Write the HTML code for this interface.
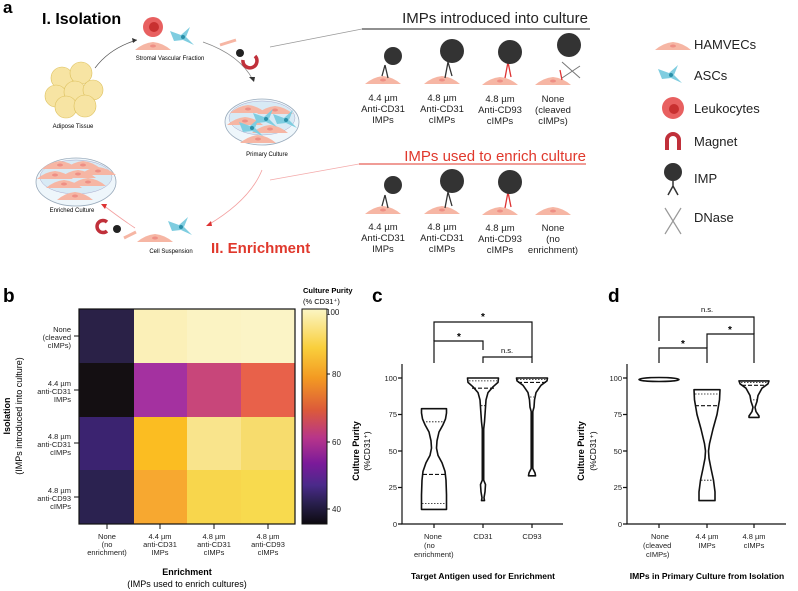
<!DOCTYPE html>
<html><head><meta charset="utf-8"><style>
body{margin:0;background:#fff}
svg{display:block;font-family:"Liberation Sans",Arial,sans-serif}
</style></head><body>
<svg width="798" height="591" viewBox="0 0 798 591" xmlns="http://www.w3.org/2000/svg">
<defs>
<linearGradient id="cb" x1="0" y1="0" x2="0" y2="1">
<stop offset="0" stop-color="#fbf6c4"/><stop offset="0.18" stop-color="#f9cf3c"/><stop offset="0.32" stop-color="#f39a22"/><stop offset="0.47" stop-color="#dc5a3a"/><stop offset="0.6" stop-color="#b7358a"/><stop offset="0.72" stop-color="#7a1a9a"/><stop offset="0.82" stop-color="#4a2a8a"/><stop offset="0.9" stop-color="#2a2050"/><stop offset="1" stop-color="#0d0a0f"/>
</linearGradient>
<g id="cell"><path d="M-18,4 Q-10,-3 0,-4 Q10,-3 18,4 Z" fill="#f6b6a4"/><ellipse cx="0" cy="0" rx="3" ry="1.5" fill="#ee8f85"/></g>
<g id="asc"><path d="M-14,-6 L-3,-2 L6,-10 L2,0 L10,8 L-1,3 L-10,4 Z" fill="#7fcde0"/><circle cx="-1" cy="0" r="2" fill="#2a8fa8"/></g>
</defs>

<!-- Panel a -->
<text x="3" y="13" font-size="17" font-weight="bold">a</text>
<text x="42" y="24" font-size="16" font-weight="bold">I. Isolation</text>
<g fill="#f7e29a" stroke="#d9b94a" stroke-width="0.6" opacity="0.9">
<circle cx="62" cy="78" r="11"/><circle cx="81" cy="73" r="11"/><circle cx="56" cy="96" r="11"/><circle cx="75" cy="92" r="11"/><circle cx="93" cy="90" r="10"/><circle cx="66" cy="107" r="11"/><circle cx="85" cy="106" r="11"/>
</g>
<text x="73" y="128" font-size="6" text-anchor="middle">Adipose Tissue</text>
<path d="M95,68 Q110,48 137,40" fill="none" stroke="#555" stroke-width="0.7"/>
<polygon points="137,40 132,38 133,43" fill="#333"/>
<circle cx="153" cy="27" r="10" fill="#e86060"/><circle cx="154" cy="27" r="5" fill="#c83030"/>
<use href="#cell" x="153" y="46"/><use href="#asc" x="184" y="37"/>
<text x="170" y="60" font-size="6" text-anchor="middle">Stromal Vascular Fraction</text>
<path d="M203,42 Q240,55 253,80" fill="none" stroke="#888" stroke-width="0.7"/>
<polygon points="254,82 249,77 255,77" fill="#333"/>
<circle cx="240" cy="53" r="4" fill="#222"/><path d="M243,60 a7,7 0 1 0 12,-4" fill="none" stroke="#c0303a" stroke-width="3.5"/>
<path d="M220,45 L236,40" stroke="#f6b6a4" stroke-width="3"/>
<ellipse cx="262" cy="122" rx="37" ry="23" fill="#eef6fb" stroke="#9ab" stroke-width="0.8"/>
<ellipse cx="262" cy="118" rx="33" ry="17" fill="#d8eaf5" stroke="#aac" stroke-width="0.5"/>
<use href="#cell" x="248" y="109" transform="scale(1)"/><use href="#cell" x="275" y="110"/><use href="#cell" x="245" y="121"/><use href="#cell" x="270" y="129"/><use href="#cell" x="258" y="139"/>
<use href="#asc" x="267" y="119"/><use href="#asc" x="253" y="128"/><use href="#asc" x="287" y="120"/>
<text x="267" y="156" font-size="6" text-anchor="middle">Primary Culture</text>
<path d="M262,170 Q250,200 208,225" fill="none" stroke="#f3a0a0" stroke-width="0.8"/>
<polygon points="206,226 211,221 212,226" fill="#d33"/>
<ellipse cx="76" cy="182" rx="40" ry="24" fill="#eef6fb" stroke="#9ab" stroke-width="0.8"/>
<ellipse cx="76" cy="177" rx="36" ry="17" fill="#d8eaf5" stroke="#aac" stroke-width="0.5"/>
<use href="#cell" x="60" y="165"/><use href="#cell" x="83" y="165"/><use href="#cell" x="55" y="175"/><use href="#cell" x="78" y="174"/><use href="#cell" x="98" y="171"/><use href="#cell" x="64" y="184"/><use href="#cell" x="88" y="182"/><use href="#cell" x="75" y="196"/>
<text x="72" y="212" font-size="6" text-anchor="middle">Enriched Culture</text>
<path d="M135,228 Q120,218 103,205" fill="none" stroke="#f3a0a0" stroke-width="0.8"/>
<polygon points="101,204 107,204 105,209" fill="#d33"/>
<use href="#cell" x="155" y="238"/><use href="#asc" x="182" y="227"/>
<circle cx="117" cy="229" r="4" fill="#222"/><path d="M107,222 a6,6 0 1 0 0,9" fill="none" stroke="#c0303a" stroke-width="3.5"/>
<path d="M124,238 L136,232" stroke="#f6b6a4" stroke-width="3"/>
<text x="171" y="253" font-size="6" text-anchor="middle">Cell Suspension</text>
<text x="211" y="253" font-size="15" font-weight="bold" fill="#e0382c">II. Enrichment</text>

<!-- IMP rows -->
<path d="M270,47 L362,29 L590,29" fill="none" stroke="#999" stroke-width="0.7"/>
<path d="M362,29 L590,29" stroke="#222" stroke-width="1"/>
<text x="588" y="23" font-size="15" text-anchor="end" fill="#222">IMPs introduced into culture</text>
<path d="M270,180 L359,164 L586,164" fill="none" stroke="#f4aaaa" stroke-width="0.7"/>
<path d="M359,164 L586,164" stroke="#e0382c" stroke-width="1"/>
<text x="586" y="161" font-size="15" text-anchor="end" fill="#e0382c">IMPs used to enrich culture</text>
<g font-size="9.5" text-anchor="middle" fill="#222">
<text x="383" y="101">4.4 µm</text><text x="383" y="112">Anti-CD31</text><text x="383" y="123">IMPs</text>
<text x="442" y="101">4.8 µm</text><text x="442" y="112">Anti-CD31</text><text x="442" y="123">cIMPs</text>
<text x="500" y="102">4.8 µm</text><text x="500" y="113">Anti-CD93</text><text x="500" y="124">cIMPs</text>
<text x="553" y="102">None</text><text x="553" y="113">(cleaved</text><text x="553" y="124">cIMPs)</text>
<text x="383" y="230">4.4 µm</text><text x="383" y="241">Anti-CD31</text><text x="383" y="252">IMPs</text>
<text x="442" y="230">4.8 µm</text><text x="442" y="241">Anti-CD31</text><text x="442" y="252">cIMPs</text>
<text x="500" y="231">4.8 µm</text><text x="500" y="242">Anti-CD93</text><text x="500" y="253">cIMPs</text>
<text x="553" y="231">None</text><text x="553" y="242">(no</text><text x="553" y="253">enrichment)</text>
</g>
<g>
<use href="#cell" x="383" y="80"/><use href="#cell" x="442" y="80"/><use href="#cell" x="500" y="81"/><use href="#cell" x="553" y="81"/>
<use href="#cell" x="383" y="210"/><use href="#cell" x="442" y="210"/><use href="#cell" x="500" y="211"/><use href="#cell" x="553" y="211"/>
<g stroke="#333" stroke-width="1.3" fill="none"><path d="M385,65 L388,78 M385,65 L382,76"/><path d="M448,62 L445,78 M448,62 L452,76"/><path d="M385,195 L388,208 M385,195 L382,206"/><path d="M448,192 L445,208 M448,192 L452,206"/></g>
<g stroke="#d33" stroke-width="1.3" fill="none"><path d="M508,62 L505,78 M508,62 L511,77"/><path d="M508,192 L505,208 M508,192 L511,207"/><path d="M560,70 L562,80"/></g>
<circle cx="393" cy="56" r="9" fill="#333"/><circle cx="452" cy="51" r="12" fill="#333"/><circle cx="510" cy="52" r="12" fill="#333"/><circle cx="569" cy="45" r="12" fill="#333"/>
<circle cx="393" cy="185" r="9" fill="#333"/><circle cx="452" cy="181" r="12" fill="#333"/><circle cx="510" cy="182" r="12" fill="#333"/>
<path d="M562,62 L580,78 M562,78 L580,66" stroke="#777" stroke-width="1"/>
</g>
<!-- legend -->
<use href="#cell" x="673" y="46"/><use href="#asc" x="672" y="75"/>
<circle cx="673" cy="108" r="11" fill="#e86060"/><circle cx="674" cy="109" r="5" fill="#c83030"/>
<path d="M667,150 V140 a6,6 0 0 1 12,0 V150" fill="none" stroke="#c0303a" stroke-width="4"/>
<circle cx="673" cy="172" r="9" fill="#333"/><path d="M673,181 V186 M673,186 L668,195 M673,186 L678,195" stroke="#333" stroke-width="1.5"/>
<path d="M665,208 L681,234 M681,208 L665,234" stroke="#999" stroke-width="1.2"/>
<g font-size="13" fill="#222">
<text x="694" y="49">HAMVECs</text><text x="694" y="80">ASCs</text><text x="694" y="113">Leukocytes</text><text x="694" y="146">Magnet</text><text x="694" y="183">IMP</text><text x="694" y="222">DNase</text>
</g>

<!-- Panel b -->
<text x="3" y="302" font-size="19" font-weight="bold">b</text>
<rect x="79" y="309" width="55" height="54" fill="#2a2147"/><rect x="134" y="309" width="53" height="54" fill="#fbf0b8"/><rect x="187" y="309" width="54" height="54" fill="#fbf3c3"/><rect x="241" y="309" width="54" height="54" fill="#fbf4c6"/>
<rect x="79" y="363" width="55" height="54" fill="#140f12"/><rect x="134" y="363" width="53" height="54" fill="#a431a0"/><rect x="187" y="363" width="54" height="54" fill="#c8467a"/><rect x="241" y="363" width="54" height="54" fill="#e8614a"/>
<rect x="79" y="417" width="55" height="53" fill="#3b2370"/><rect x="134" y="417" width="53" height="53" fill="#fbbd22"/><rect x="187" y="417" width="54" height="53" fill="#f9e48c"/><rect x="241" y="417" width="54" height="53" fill="#f7dc6d"/>
<rect x="79" y="470" width="55" height="54" fill="#2b2250"/><rect x="134" y="470" width="53" height="54" fill="#f7a830"/><rect x="187" y="470" width="54" height="54" fill="#f8d64c"/><rect x="241" y="470" width="54" height="54" fill="#f8da4e"/>
<rect x="79" y="309" width="216" height="215" fill="none" stroke="#111" stroke-width="1.2"/>
<g stroke="#111" stroke-width="1"><path d="M74,336 H79 M74,390 H79 M74,443 H79 M74,497 H79 M107,524 V529 M160,524 V529 M214,524 V529 M268,524 V529"/></g>
<g font-size="7.5" text-anchor="end" fill="#222">
<text x="71" y="332">None</text><text x="71" y="340">(cleaved</text><text x="71" y="348">cIMPs)</text>
<text x="71" y="386">4.4 µm</text><text x="71" y="394">anti-CD31</text><text x="71" y="402">IMPs</text>
<text x="71" y="439">4.8 µm</text><text x="71" y="447">anti-CD31</text><text x="71" y="455">cIMPs</text>
<text x="71" y="493">4.8 µm</text><text x="71" y="501">anti-CD93</text><text x="71" y="509">cIMPs</text>
</g>
<g font-size="7.5" text-anchor="middle" fill="#222">
<text x="107" y="539">None</text><text x="107" y="547">(no</text><text x="107" y="555">enrichment)</text>
<text x="160" y="539">4.4 µm</text><text x="160" y="547">anti-CD31</text><text x="160" y="555">IMPs</text>
<text x="214" y="539">4.8 µm</text><text x="214" y="547">anti-CD31</text><text x="214" y="555">cIMPs</text>
<text x="268" y="539">4.8 µm</text><text x="268" y="547">anti-CD93</text><text x="268" y="555">cIMPs</text>
</g>
<text x="187" y="575" font-size="9" font-weight="bold" text-anchor="middle">Enrichment</text>
<text x="187" y="587" font-size="9" text-anchor="middle">(IMPs used to enrich cultures)</text>
<text transform="translate(10,416) rotate(-90)" font-size="9" font-weight="bold" text-anchor="middle">Isolation</text>
<text transform="translate(22,416) rotate(-90)" font-size="9" text-anchor="middle">(IMPs introduced into culture)</text>
<rect x="302" y="309" width="25" height="215" fill="url(#cb)" stroke="#111" stroke-width="1"/>
<text x="303" y="293" font-size="7.5" font-weight="bold">Culture Purity</text>
<text x="303" y="304" font-size="7.5">(% CD31⁺)</text>
<g stroke="#111"><path d="M327,374 H330 M327,442 H330 M327,509 H330"/></g>
<g font-size="8" fill="#222"><text x="326" y="315">100</text><text x="332" y="377">80</text><text x="332" y="445">60</text><text x="332" y="512">40</text></g>
<text transform="translate(359,451) rotate(-90)" font-size="9" font-weight="bold" text-anchor="middle">Culture Purity</text>

<!-- Panel c -->
<text x="372" y="302" font-size="19" font-weight="bold">c</text>
<g stroke="#111" stroke-width="1.2" fill="none">
<path d="M402,364 V524 H563"/>
<path d="M398,378 H402 M398,414.5 H402 M398,451 H402 M398,487.5 H402 M398,524 H402 M434,524 V528 M483,524 V528 M532,524 V528"/>
<path d="M434,363 V341 H483 V350"/><path d="M483,363 V357 H532 V363"/><path d="M434,341 V322 H532 V357"/>
</g>
<g font-size="7.5" fill="#222" text-anchor="end"><text x="397" y="381">100</text><text x="397" y="417">75</text><text x="397" y="454">50</text><text x="397" y="490">25</text><text x="397" y="527">0</text></g>
<g font-size="10" font-weight="bold" text-anchor="middle"><text x="483" y="320">*</text><text x="459" y="340">*</text></g>
<text x="507" y="353" font-size="7.5" text-anchor="middle">n.s.</text>
<text transform="translate(370,451) rotate(-90)" font-size="8.5" text-anchor="middle">(%CD31⁺)</text>
<g stroke="#111" stroke-width="1.6" fill="none" stroke-linejoin="round">
<polygon points="421.5,408.7 446.5,408.7 446.5,413 445.5,418.9 443,424.7 439,432 437,440.8 436.5,448.1 438,455.4 442,462.7 445,471.4 446,480.2 446.5,494.8 446.5,509.4 421.5,509.4 421.5,494.8 422,480.2 423,471.4 426,462.7 430,455.4 431.5,448.1 431,440.8 429,432 425,424.7 422.5,418.9 421.5,413"/>
<polygon points="467.5,378 498.5,378 498,382.4 493,386.8 488,392.6 486,399.9 485.5,407.2 485,414.5 484.5,421.8 483.7,429 483.7,480.2 485.5,484.6 485,491.9 484,497.7 484.5,500.6 481.5,500.6 482,497.7 481,491.9 480.5,484.6 482.3,480.2 482.3,429 481.5,421.8 481,414.5 480.5,407.2 480,399.9 478,392.6 473,386.8 468,382.4"/>
<polygon points="516.5,378 547.5,378 547,380.9 541,385.3 536,392.6 534.5,399.9 534,407.2 532.8,411.6 532.8,468.5 535,472.9 535.5,475.8 528.5,475.8 529,472.9 531.2,468.5 531.2,411.6 530,407.2 529.5,399.9 528,392.6 523,385.3 517,380.9"/>
</g>
<g stroke="#111" stroke-width="1.1">
<path d="M423,474.4 H445 M472,388.2 H494 M518,382.4 H546" stroke-dasharray="4,2"/>
<path d="M422,503.6 H446 M423,421.8 H445 M469,380.9 H497 M481,405.7 H485 M517,379.5 H547 M530,397 H534" stroke-dasharray="1.5,1.5" stroke-width="0.8"/>
</g>
<g font-size="7.5" fill="#222" text-anchor="middle">
<text x="424" y="539" text-anchor="start">None</text><text x="424" y="548" text-anchor="start">(no</text><text x="414" y="557" text-anchor="start">enrichment)</text>
<text x="483" y="539">CD31</text><text x="532" y="539">CD93</text>
</g>
<text x="483" y="579" font-size="8.5" font-weight="bold" text-anchor="middle">Target Antigen used for Enrichment</text>

<!-- Panel d -->
<text x="608" y="302" font-size="19" font-weight="bold">d</text>
<g stroke="#111" stroke-width="1.2" fill="none">
<path d="M627,364 V524 H786"/>
<path d="M623,378 H627 M623,414.5 H627 M623,451 H627 M623,487.5 H627 M623,524 H627 M659,524 V528 M707,524 V528 M754,524 V528"/>
<path d="M659,363 V348 H707 V363"/><path d="M707,348 V334 H754 V363"/><path d="M659,341 V317 H754 V334"/>
</g>
<g font-size="7.5" fill="#222" text-anchor="end"><text x="622" y="381">100</text><text x="622" y="417">75</text><text x="622" y="454">50</text><text x="622" y="490">25</text><text x="622" y="527">0</text></g>
<g font-size="10" font-weight="bold" text-anchor="middle"><text x="683" y="347">*</text><text x="730" y="333">*</text></g>
<text x="707" y="312" font-size="7.5" text-anchor="middle">n.s.</text>
<text transform="translate(584,451) rotate(-90)" font-size="9" font-weight="bold" text-anchor="middle">Culture Purity</text>
<text transform="translate(596,451) rotate(-90)" font-size="8.5" text-anchor="middle">(%CD31⁺)</text>
<g stroke="#111" stroke-width="1.6" fill="none" stroke-linejoin="round">
<ellipse cx="659" cy="379.5" rx="20" ry="2"/>
<polygon points="694,389.7 720,389.7 719.5,399.9 717,414.5 713,429 709.5,443.7 708.5,451 709,458.3 711,468.5 713.5,480.2 715,491.9 715,500.6 699,500.6 699,491.9 700.5,480.2 703,468.5 705,458.3 705.5,451 704.5,443.7 701,429 697,414.5 694.5,399.9"/>
<polygon points="739,380.9 769,380.9 768,383.8 762,388.2 758,395.5 757,401.4 755,407.2 756,411.6 759,416 759,417.4 749,417.4 749,416 752,411.6 753,407.2 751,401.4 750,395.5 746,388.2 740,383.8"/>
</g>
<g stroke="#111" stroke-width="1.1">
<path d="M695,405.7 H719 M742,385.3 H766" stroke-dasharray="4,2"/>
<path d="M695,394 H719 M701,480.2 H713 M741,382.4 H767 M750,399.9 H758" stroke-dasharray="1.5,1.5" stroke-width="0.8"/>
</g>
<g font-size="7.5" fill="#222" text-anchor="middle">
<text x="651" y="539" text-anchor="start">None</text><text x="643" y="548" text-anchor="start">(cleaved</text><text x="646" y="557" text-anchor="start">cIMPs)</text>
<text x="707" y="539">4.4 µm</text><text x="707" y="548">IMPs</text>
<text x="754" y="539">4.8 µm</text><text x="754" y="548">cIMPs</text>
</g>
<text x="707" y="579" font-size="8.5" font-weight="bold" text-anchor="middle">IMPs in Primary Culture from Isolation</text>
</svg>
</body></html>
